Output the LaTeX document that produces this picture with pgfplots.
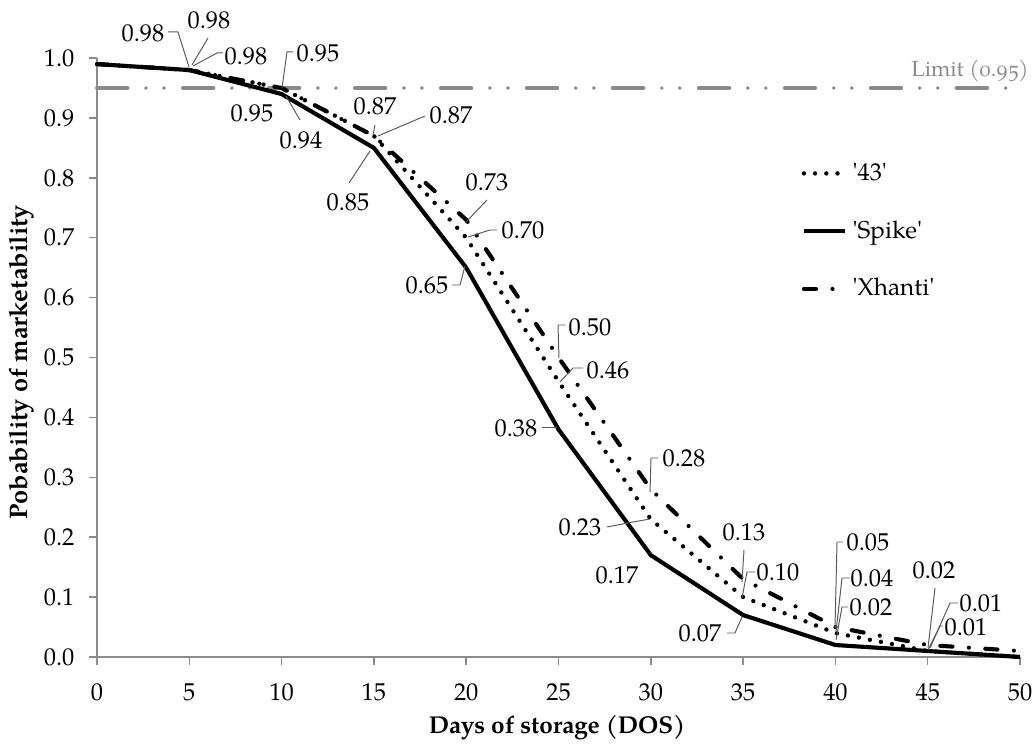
\documentclass[border=0pt]{standalone}
\usepackage{fontspec}
\setmainfont{TeX Gyre Pagella}[Ligatures=TeXOff]
\usepackage{pgfplots}
\usepackage{pgfplotstable}
\pgfplotsset{compat=1.18}
\usetikzlibrary{calc}

\definecolor{axgray}{HTML}{8C8C8C}
\definecolor{limgray}{HTML}{8A8A8A}

% probability of marketability by days of storage
\pgfplotstableread{
dos  p43   spike xhanti
0    0.99  0.99  0.99
5    0.98  0.98  0.98
10   0.95  0.94  0.95
15   0.87  0.85  0.87
20   0.70  0.65  0.73
25   0.46  0.38  0.50
30   0.23  0.17  0.28
35   0.10  0.07  0.13
40   0.04  0.02  0.05
45   0.01  0.01  0.02
50   0.00  0.00  0.01
}\marketdata

\begin{document}
\begin{tikzpicture}[
  lbl/.style={inner sep=0pt, font=\fontsize{10}{12}\selectfont},
  ld/.style={draw=black!65, line width=0.4pt},
]
\begin{axis}[
  name=ax,
  scale only axis,
  width=379pt, height=245.9pt,
  xmin=0, xmax=50, ymin=0, ymax=1,
  xtick={0,5,...,50},
  ytick={0,0.1,0.2,0.3,0.4,0.5,0.6,0.7,0.8,0.9,1},
  axis x line*=bottom, axis y line*=left,
  tick align=outside,
  major tick length=3.3pt,
  axis line style={axgray, line width=0.6pt},
  tick style={axgray, line width=0.6pt},
  /pgf/number format/assume math mode=true,
  yticklabel style={/pgf/number format/fixed, /pgf/number format/fixed zerofill,
    /pgf/number format/precision=1, xshift=-2.5pt},
  xticklabel style={yshift=-4pt},
  ticklabel style={font=\fontsize{10}{12}\selectfont},
  legend style={at={(axis description cs:0.755,0.842)}, anchor=north west,
    draw=none, fill=none, row sep=11pt, font=\fontsize{10}{12}\selectfont},
  legend cell align=left,
  clip=false,
]
\addplot[limgray, line width=1.6pt, line cap=round,
  dash pattern=on 12.5pt off 7.6pt on 0pt off 7.4pt on 0pt off 7.8pt, forget plot]
  coordinates {(0,0.95) (50,0.95)};
\addplot[black, line width=1.8pt, line cap=round, dash pattern=on 0pt off 4.6pt]
  table[x=dos, y=p43] {\marketdata};
\addlegendentry{'43'}
\addplot[black, line width=1.7pt]
  table[x=dos, y=spike] {\marketdata};
\addlegendentry{'Spike'}
\addplot[black, line width=1.7pt, line cap=round, dash pattern=on 5pt off 6.75pt on 0pt off 6.75pt]
  table[x=dos, y=xhanti] {\marketdata};
\addlegendentry{'Xhanti'}
\end{axis}

% labels and annotations, in pixel units of the reference frame
\begin{scope}[shift={($(ax.south west)+(-39.83pt,269.76pt)$)}, x=0.4106pt, y=-0.4106pt]
\node[font=\bfseries\fontsize{10}{12}\selectfont] at (557,728) {Days of storage (DOS)};
\node[font=\bfseries\fontsize{10.4}{12}\selectfont, rotate=90] at (22,362) {Pobability of marketability};

\node[lbl, text=limgray, font=\fontsize{9}{11}\selectfont] at (970,71)
  {Limit {\addfontfeatures{Numbers=OldStyle}(0.95)}};

\node[lbl] at (143,33) {0.98}; \draw[ld] (168,32) -- (178,32) -- (189,67);
\node[lbl] at (209,20) {0.98}; \draw[ld] (208,38) -- (192,65);
\node[lbl] at (246,56) {0.98}; \draw[ld] (223,53) -- (217,53) -- (193,66);
\node[lbl] at (318,53) {0.95}; \draw[ld] (293,52) -- (287,52) -- (282,88);
\node[lbl] at (252,113) {0.95};
\node[lbl] at (301,140) {0.94}; \draw[ld] (300,120) -- (286,96);
\node[lbl] at (375,106) {0.87}; \draw[ld] (375,125) -- (373,135);
\node[lbl] at (451,115) {0.87}; \draw[ld] (425,116) -- (378,136);
\node[lbl] at (348,202) {0.85}; \draw[ld] (349,183) -- (370,151);
\node[lbl] at (487,182) {0.73}; \draw[ld] (487,200) -- (466,222);
\node[lbl] at (523,230) {0.70}; \draw[ld] (497,230) -- (490,230) -- (468,237);
\node[lbl] at (427,285) {0.65}; \draw[ld] (452,285) -- (460,285) -- (465,266);
\node[lbl] at (590,327) {0.50}; \draw[ld] (565,325) -- (558,325) -- (559,358);
\node[lbl] at (608,370) {0.46}; \draw[ld] (583,368) -- (573,368) -- (560,382);
\node[lbl] at (516,428) {0.38}; \draw[ld] (542,427) -- (557,427);
\node[lbl] at (684,458) {0.28}; \draw[ld] (658,458) -- (651,458) -- (650,492);
\node[lbl] at (580,527) {0.23}; \draw[ld] (607,527) -- (633,522) -- (650,519);
\node[lbl] at (617,575) {0.17};
\node[lbl] at (744,532) {0.13}; \draw[ld] (744,550) -- (742,582);
\node[lbl] at (778,572) {0.10}; \draw[ld] (755,572) -- (747,572) -- (742,598);
\node[lbl] at (700,633) {0.07}; \draw[ld] (727,633) -- (735,633) -- (742,617);
\node[lbl] at (868,542) {0.05}; \draw[ld] (843,542) -- (837,542) -- (835,628);
\node[lbl] at (872,578) {0.04}; \draw[ld] (850,578) -- (842,578) -- (836,632);
\node[lbl] at (871,607) {0.02}; \draw[ld] (848,607) -- (842,607) -- (836,640);
\node[lbl] at (934,570) {0.02}; \draw[ld] (935,588) -- (928,648);
\node[lbl] at (981,603) {0.01}; \draw[ld] (958,603) -- (950,603) -- (930,648);
\node[lbl] at (966,627) {0.01}; \draw[ld] (943,626) -- (940,626) -- (928,650);

\pgfresetboundingbox
\path[use as bounding box] (0,0) rectangle (1035,745);
\end{scope}
\end{tikzpicture}
\end{document}
